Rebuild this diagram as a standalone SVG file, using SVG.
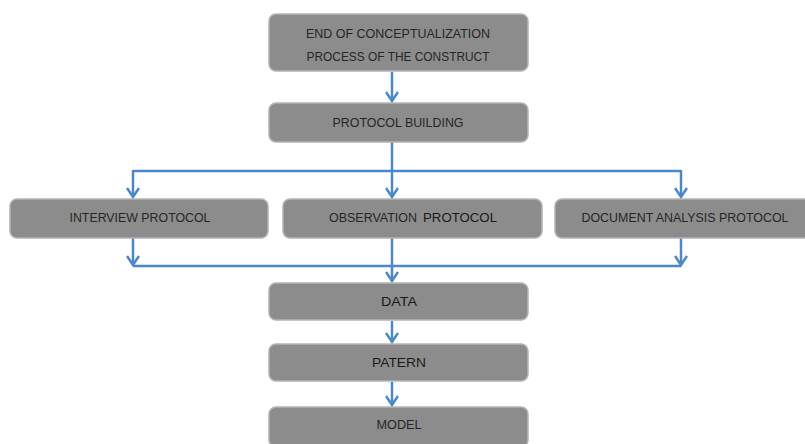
<svg xmlns="http://www.w3.org/2000/svg" width="805" height="444" viewBox="0 0 805 444">
<defs>
<style>
.box{fill:#8c8c8c;stroke:#b4b4b4;stroke-width:1.5}
.t{font-family:"Liberation Sans",Arial,sans-serif;font-size:12.5px;fill:#262626;text-anchor:middle}
.b{font-family:"Liberation Sans",Arial,sans-serif;font-size:13px;fill:#1a1a1a;text-anchor:middle}
.c{fill:none;stroke:#4a88cc;stroke-width:2.5}
</style>
<marker id="ah" viewBox="0 0 12 14" refX="10" refY="7" markerWidth="12" markerHeight="14" markerUnits="userSpaceOnUse" orient="auto">
<path d="M1 1 L10 7 L1 13" fill="none" stroke="#4a88cc" stroke-width="2.5"/>
</marker>
</defs>
<rect width="805" height="444" fill="#ffffff"/>
<g id="connectors">
<line class="c" x1="392" y1="72" x2="392" y2="101" marker-end="url(#ah)"/>
<line class="c" x1="392" y1="142" x2="392" y2="171"/>
<polyline class="c" points="133,171 681,171"/>
<line class="c" x1="133" y1="170" x2="133" y2="197" marker-end="url(#ah)"/>
<line class="c" x1="392" y1="171" x2="392" y2="197" marker-end="url(#ah)"/>
<line class="c" x1="681" y1="170" x2="681" y2="197" marker-end="url(#ah)"/>
<line class="c" x1="133" y1="238" x2="133" y2="265" marker-end="url(#ah)"/>
<line class="c" x1="681" y1="238" x2="681" y2="265" marker-end="url(#ah)"/>
<line class="c" x1="133" y1="266" x2="681" y2="266"/>
<line class="c" x1="392" y1="238" x2="392" y2="281" marker-end="url(#ah)"/>
<line class="c" x1="392" y1="321" x2="392" y2="342" marker-end="url(#ah)"/>
<line class="c" x1="392" y1="382" x2="392" y2="405" marker-end="url(#ah)"/>
</g>
<g id="n-end">
<rect class="box" x="269" y="14" width="259" height="57" rx="7"/>
<text class="t" x="398" y="38" textLength="184" lengthAdjust="spacingAndGlyphs">END OF CONCEPTUALIZATION</text>
<text class="t" x="398" y="61" textLength="183" lengthAdjust="spacingAndGlyphs">PROCESS OF THE CONSTRUCT</text>
</g>
<g id="n-building">
<rect class="box" x="269" y="103" width="259" height="39" rx="7"/>
<text class="t" x="398" y="127" textLength="131" lengthAdjust="spacingAndGlyphs">PROTOCOL BUILDING</text>
</g>
<g id="n-interview">
<rect class="box" x="10" y="199" width="258" height="39" rx="7"/>
<text class="t" x="140" y="222" textLength="141" lengthAdjust="spacingAndGlyphs">INTERVIEW PROTOCOL</text>
</g>
<g id="n-observation">
<rect class="box" x="283" y="199" width="259" height="39" rx="7"/>
<text class="t" x="373" y="222" textLength="88" lengthAdjust="spacingAndGlyphs">OBSERVATION</text>
<text class="b" x="460" y="222" textLength="74" lengthAdjust="spacingAndGlyphs">PROTOCOL</text>
</g>
<g id="n-document">
<rect class="box" x="555" y="199" width="258" height="39" rx="7"/>
<text class="t" x="685" y="222" textLength="207" lengthAdjust="spacingAndGlyphs">DOCUMENT ANALYSIS PROTOCOL</text>
</g>
<g id="n-data">
<rect class="box" x="269" y="283" width="259" height="37" rx="7"/>
<text class="b" x="399" y="306" textLength="36" lengthAdjust="spacingAndGlyphs">DATA</text>
</g>
<g id="n-patern">
<rect class="box" x="269" y="344" width="259" height="37" rx="7"/>
<text class="b" x="399" y="367" textLength="54" lengthAdjust="spacingAndGlyphs">PATERN</text>
</g>
<g id="n-model">
<rect class="box" x="269" y="407" width="259" height="40" rx="7"/>
<text class="t" x="399" y="429" textLength="45" lengthAdjust="spacingAndGlyphs">MODEL</text>
</g>
</svg>
